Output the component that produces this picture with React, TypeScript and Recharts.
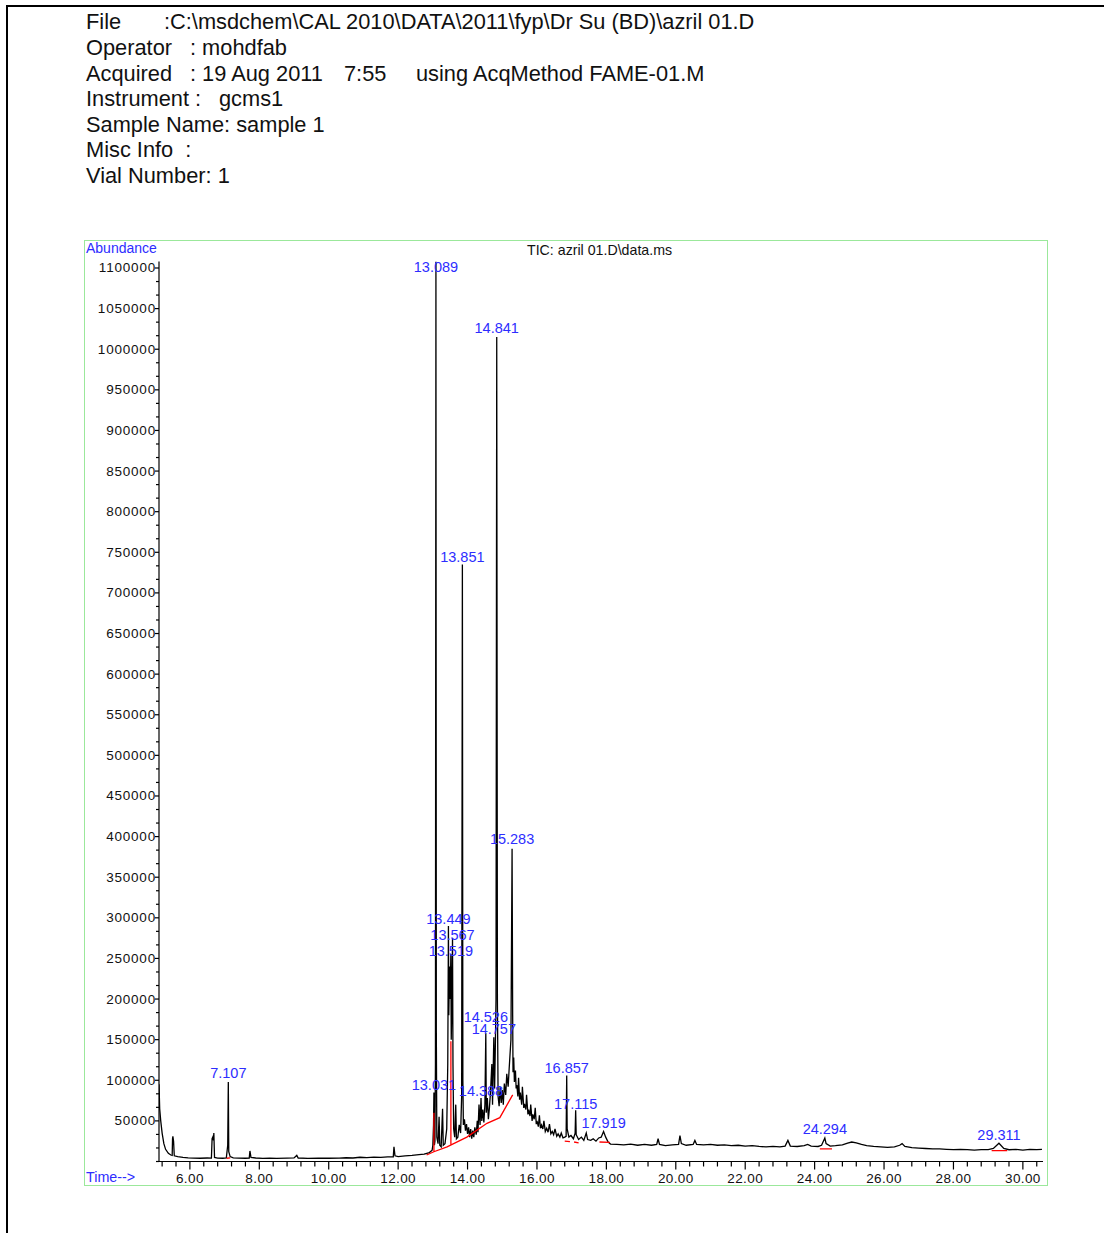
import React from 'react';
import { ComposedChart, Line, Scatter, XAxis, YAxis } from 'recharts';

// retention time (min), abundance
const ticTrace: [number, number][] = [
  [5.11, 95000], [5.12, 80000], [5.13, 65000], [5.16, 50000], [5.2, 35000], [5.25, 22000],
  [5.3, 15000], [5.38, 10000], [5.45, 8000], [5.49, 7500], [5.5, 28000], [5.51, 31000],
  [5.53, 25000], [5.55, 7000], [5.65, 6000], [5.8, 5000], [5.95, 4500], [6.1, 4200],
  [6.3, 4000], [6.5, 4300], [6.62, 4200], [6.64, 28000], [6.66, 30000], [6.68, 26000],
  [6.69, 35000], [6.71, 5000], [6.8, 4200], [6.95, 4000], [7.05, 4500], [7.09, 20000],
  [7.107, 98000], [7.12, 12000], [7.16, 6000], [7.25, 4500], [7.4, 4200], [7.6, 4000],
  [7.71, 4200], [7.73, 13000], [7.76, 5000], [7.9, 4300], [8.1, 3800], [8.3, 4200],
  [8.5, 3900], [8.8, 4100], [9.0, 4400], [9.08, 7500], [9.12, 4300], [9.4, 3900],
  [9.7, 4200], [10.0, 4000], [10.3, 4100], [10.5, 4600], [10.7, 4300], [10.9, 5200],
  [11.1, 4800], [11.3, 5400], [11.5, 5000], [11.7, 5600], [11.86, 5800], [11.88, 18000],
  [11.91, 7000], [12.0, 6000], [12.2, 7000], [12.4, 7500], [12.6, 8500], [12.75, 9000],
  [12.9, 11000], [12.98, 14000], [13.0, 20000], [13.02, 45000], [13.031, 85000], [13.045, 20000],
  [13.06, 25000], [13.075, 120000], [13.089, 1108000], [13.1, 160000], [13.115, 30000], [13.15, 22000],
  [13.18, 55000], [13.2, 20000], [13.24, 18000], [13.28, 65000], [13.3, 20000], [13.35, 22000],
  [13.4, 40000], [13.43, 120000], [13.449, 290000], [13.46, 180000], [13.48, 240000], [13.5, 200000],
  [13.519, 255000], [13.53, 150000], [13.55, 200000], [13.567, 275000], [13.58, 120000], [13.6, 40000],
  [13.63, 30000], [13.66, 70000], [13.68, 28000], [13.72, 30000], [13.76, 45000], [13.8, 35000],
  [13.83, 80000], [13.851, 735000], [13.865, 100000], [13.88, 45000], [13.91, 52000], [13.94, 38000],
  [13.97, 46000], [14.0, 34000], [14.03, 42000], [14.06, 30000], [14.09, 40000], [14.12, 28000],
  [14.15, 38000], [14.18, 30000], [14.21, 42000], [14.25, 33000], [14.28, 50000], [14.3, 36000],
  [14.33, 70000], [14.36, 45000], [14.388, 78000], [14.41, 50000], [14.44, 64000], [14.47, 48000],
  [14.5, 70000], [14.526, 158000], [14.54, 60000], [14.57, 78000], [14.6, 52000], [14.63, 66000],
  [14.66, 85000], [14.7, 120000], [14.72, 70000], [14.757, 153000], [14.78, 90000],
  [14.8, 140000], [14.82, 200000], [14.841, 1015000], [14.86, 200000], [14.88, 80000], [14.91, 68000],
  [14.94, 92000], [14.97, 72000], [15.0, 88000], [15.03, 70000], [15.06, 96000], [15.1, 82000],
  [15.13, 108000], [15.17, 92000], [15.2, 115000], [15.25, 150000], [15.283, 385000], [15.3, 180000],
  [15.31, 110000], [15.33, 128000], [15.35, 98000], [15.38, 112000], [15.4, 90000], [15.42, 94000],
  [15.45, 80000], [15.47, 103000], [15.5, 76000], [15.52, 85000], [15.56, 70000], [15.58, 92000],
  [15.62, 66000], [15.64, 71000], [15.68, 64000], [15.7, 82000], [15.74, 58000], [15.76, 64000],
  [15.8, 56000], [15.82, 70000], [15.86, 50000], [15.88, 58000], [15.92, 52000], [15.95, 66000],
  [15.98, 46000], [16.0, 50000], [16.04, 43000], [16.07, 57000], [16.1, 41000], [16.13, 45000],
  [16.17, 40000], [16.2, 50000], [16.24, 37000], [16.28, 41000], [16.32, 36000], [16.36, 46000],
  [16.4, 34000], [16.44, 37000], [16.48, 33000], [16.52, 40000], [16.57, 31000], [16.61, 34000],
  [16.66, 30000], [16.7, 35000], [16.75, 29000], [16.8, 30000], [16.84, 31000], [16.857, 106000],
  [16.87, 40000], [16.92, 30000], [16.98, 32000], [17.05, 28000], [17.1, 35000], [17.115, 63000],
  [17.13, 33000], [17.2, 27000], [17.28, 30000], [17.35, 26000], [17.42, 35000], [17.46, 27000],
  [17.55, 26000], [17.62, 28000], [17.7, 25000], [17.78, 29000], [17.85, 30000], [17.919, 37000],
  [17.98, 30000], [18.05, 24000], [18.12, 21500], [18.3, 21000], [18.5, 20500], [18.7, 21500],
  [18.9, 20000], [19.1, 21000], [19.3, 20000], [19.45, 21000], [19.49, 28000], [19.53, 21000],
  [19.7, 19500], [19.9, 20500], [20.08, 21000], [20.12, 32000], [20.16, 22000], [20.3, 20000],
  [20.5, 21000], [20.55, 26000], [20.6, 21000], [20.8, 20500], [21.0, 21000], [21.2, 20000],
  [21.4, 20500], [21.6, 19500], [21.8, 20000], [22.0, 19000], [22.2, 19500], [22.4, 18500],
  [22.6, 18000], [22.8, 18500], [23.0, 18000], [23.15, 19000], [23.23, 26000], [23.3, 19000],
  [23.5, 18500], [23.7, 19500], [23.8, 21000], [23.9, 19000], [24.1, 18500], [24.2, 20000],
  [24.294, 29000], [24.33, 22000], [24.45, 19000], [24.6, 19500], [24.8, 20500], [24.95, 22500],
  [25.07, 24000], [25.2, 23000], [25.35, 21000], [25.5, 19500], [25.7, 18500], [25.9, 18000],
  [26.1, 17500], [26.3, 18000], [26.45, 20000], [26.52, 22000], [26.6, 18500], [26.8, 17000],
  [27.0, 16500], [27.2, 16000], [27.4, 15500], [27.6, 15500], [27.8, 15000], [28.0, 14500],
  [28.2, 15000], [28.4, 14500], [28.6, 14000], [28.8, 14500], [29.0, 14500], [29.15, 16000],
  [29.311, 22500], [29.45, 16000], [29.6, 14500], [29.8, 15000], [30.0, 14000], [30.2, 15000],
  [30.4, 14500], [30.55, 15000],
];

// red integration baselines / drop lines
const integrationSegments: [number, number][][] = [
  [[7.06, 4000], [7.16, 4500]],
  [[12.82, 8000], [13.03, 12000], [13.41, 18000], [13.98, 30000], [14.56, 47000], [14.93, 54000], [15.3, 82000]],
  [[13.031, 12500], [13.031, 60000]],
  [[13.52, 20000], [13.52, 148000]],
  [[16.8, 25000], [16.95, 24500]],
  [[17.07, 24000], [17.2, 23000]],
  [[17.8, 24000], [18.1, 23500]],
  [[24.15, 15500], [24.5, 15500]],
  [[29.1, 13300], [29.55, 13300]],
];

const peakTimes = ['7.107', '13.031', '13.089', '13.449', '13.519', '13.567', '13.851', '14.388', '14.526', '14.757', '14.841', '15.283', '16.857', '17.115', '17.919', '24.294', '29.311'];
// abundance level where each peak label sits
const peakLabelLevels = [102800, 88000, 1095000, 292400, 253000, 272700, 738100, 80600, 171700, 157000, 1020000, 390900, 109000, 64600, 41200, 33900, 26500];

const xTickLabels = [6, 8, 10, 12, 14, 16, 18, 20, 22, 24, 26, 28, 30];
const yTickLabels = [50000, 100000, 150000, 200000, 250000, 300000, 350000, 400000, 450000, 500000, 550000, 600000, 650000, 700000, 750000, 800000, 850000, 900000, 950000, 1000000, 1050000, 1100000];

const headerLines = [
  { y: 22, parts: [['File', 86], [':C:\\msdchem\\CAL 2010\\DATA\\2011\\fyp\\Dr Su (BD)\\azril 01.D', 164]] },
  { y: 48, parts: [['Operator', 86], [': mohdfab', 190]] },
  { y: 74, parts: [['Acquired', 86], [': 19 Aug 2011', 190], ['7:55', 344], ['using AcqMethod FAME-01.M', 416]] },
  { y: 99, parts: [['Instrument :', 86], ['gcms1', 219]] },
  { y: 125, parts: [['Sample Name: sample 1', 86]] },
  { y: 150, parts: [['Misc Info  :', 86]] },
  { y: 176, parts: [['Vial Number: 1', 86]] },
];

const PLOT_LEFT = 159;
const AXIS_Y = 1161.5;
const BLUE = '#2d2dff';

const traceData = ticTrace.map(([t, v]) => ({ t, v }));
const redData: { t: number; v: number | null }[] = [];
integrationSegments.forEach((seg) => {
  seg.forEach(([t, v]) => redData.push({ t, v }));
  redData.push({ t: seg[seg.length - 1][0], v: null });
});
const labelData = peakTimes.map((s, i) => ({ t: parseFloat(s), v: peakLabelLevels[i], label: s }));

const xTicks: number[] = [];
for (let i = 0; i <= 63; i++) xTicks.push(Math.round((5.2 + i * 0.4) * 10) / 10);
const yTicks: number[] = [0];
yTickLabels.forEach((v) => {
  yTicks.push(v - 50000 * 2 / 3, v - 50000 / 3, v);
});

const XTick = (props: any) => {
  const { x, payload } = props;
  const major = xTickLabels.includes(payload.value);
  return (
    <g>
      <line x1={x} x2={x} y1={AXIS_Y} y2={AXIS_Y + (major ? 8 : 5)} stroke="#000" strokeWidth={1.2} />
      {major && (
        <text x={x} y={AXIS_Y + 21} textAnchor="middle" fontSize={13.5} letterSpacing={0.4} fill="#111">
          {payload.value.toFixed(2)}
        </text>
      )}
    </g>
  );
};

const YTick = (props: any) => {
  const { y, payload } = props;
  const major = yTickLabels.includes(payload.value);
  return (
    <g>
      <line x1={PLOT_LEFT - (major ? 4 : 3)} x2={PLOT_LEFT} y1={y} y2={y} stroke="#000" strokeWidth={1.2} />
      {major && (
        <text x={PLOT_LEFT - 3} y={y + 4.5} textAnchor="end" fontSize={13.5} letterSpacing={0.8} fill="#111">
          {payload.value}
        </text>
      )}
    </g>
  );
};

const PeakLabel = (props: any) => {
  const { cx, cy, payload } = props;
  return (
    <text x={cx} y={cy} textAnchor="middle" fontSize={14.5} fill={BLUE}>
      {payload.label}
    </text>
  );
};

export default function App() {
  return (
    <div
      style={{
        position: 'absolute',
        left: 0,
        top: 0,
        width: 1104,
        height: 1233,
        background: '#fff',
        fontFamily: '"Liberation Sans", Arial, sans-serif',
        overflow: 'hidden',
      }}
    >
      <div style={{ position: 'absolute', left: 6, top: 5, width: 1110, height: 1240, borderTop: '2px solid #000', borderLeft: '2px solid #000' }} />
      {headerLines.map((line, i) =>
        line.parts.map(([text, left], j) => (
          <div
            key={`${i}-${j}`}
            style={{ position: 'absolute', left: left as number, top: line.y - 13, fontSize: 21.8, lineHeight: '26px', whiteSpace: 'pre', color: '#111' }}
          >
            {text}
          </div>
        ))
      )}
      <div style={{ position: 'absolute', left: 84, top: 240, width: 962, height: 944, border: '1.5px solid #9be89b' }} />
      <div style={{ position: 'absolute', left: 86, top: 240, fontSize: 14, color: BLUE }}>Abundance</div>
      <div style={{ position: 'absolute', left: 527, top: 242, fontSize: 14.2, color: '#111' }}>TIC: azril 01.D\data.ms</div>
      <div style={{ position: 'absolute', left: 86, top: 1169, fontSize: 14.3, color: BLUE }}>Time--&gt;</div>
      <div style={{ position: 'absolute', left: 0, top: 0 }}>
        <ComposedChart width={1104} height={1233} margin={{ top: 261.5, right: 61, bottom: 46.5, left: 84 }}>
          <XAxis
            dataKey="t"
            type="number"
            domain={[5.11, 30.58]}
            allowDataOverflow
            ticks={xTicks}
            interval={0}
            tick={<XTick />}
            tickLine={false}
            axisLine={{ stroke: '#000', strokeWidth: 1.2 }}
            height={25}
          />
          <YAxis
            type="number"
            domain={[0, 1108000]}
            allowDataOverflow
            ticks={yTicks}
            interval={0}
            tick={<YTick />}
            tickLine={false}
            axisLine={{ stroke: '#000', strokeWidth: 1.2 }}
            width={75}
          />
          <Line data={traceData} dataKey="v" type="linear" stroke="#000" strokeWidth={1.3} dot={false} isAnimationActive={false} />
          <Line data={redData} dataKey="v" type="linear" stroke="#ff0000" strokeWidth={1.3} dot={false} connectNulls={false} isAnimationActive={false} />
          <Scatter data={labelData} dataKey="v" shape={<PeakLabel />} isAnimationActive={false} />
        </ComposedChart>
      </div>
    </div>
  );
}
